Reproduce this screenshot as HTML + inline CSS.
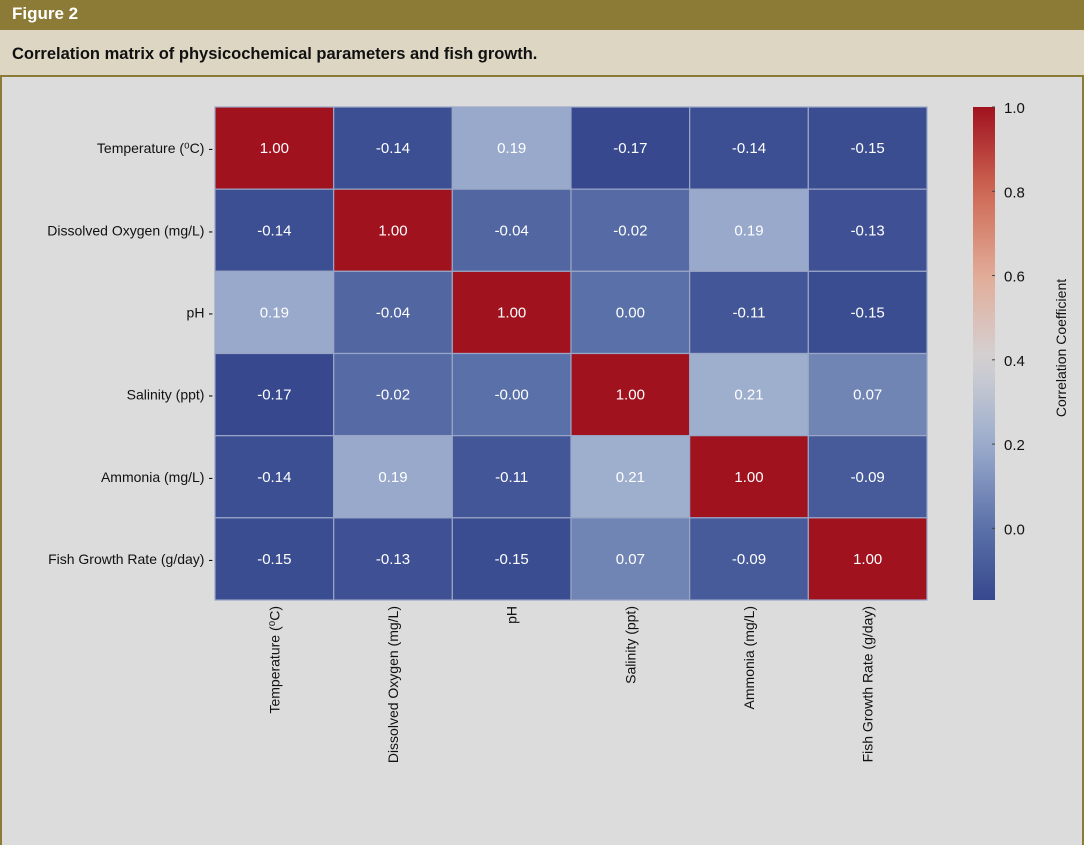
<!DOCTYPE html>
<html><head><meta charset="utf-8"><style>
body{margin:0;width:1084px;height:845px;overflow:hidden;background:#dcdcdc;font-family:"Liberation Sans",sans-serif}
#hdr{position:absolute;left:0;top:0;width:1084px;height:30px;background:#8b7b36;color:#fff;font-weight:bold;font-size:17px;line-height:28px;box-sizing:border-box;padding-left:12px}
#ttl{position:absolute;left:0;top:30px;width:1084px;height:45px;background:#dcd6c3;font-weight:bold;font-size:16.5px;line-height:48px;box-sizing:border-box;padding-left:12px;color:#111}
#panel{position:absolute;left:0;top:75px;width:1084px;height:770px;box-sizing:border-box;border:2px solid #8b7b36;border-bottom:none;background:#dcdcdc}
svg{position:absolute;left:0;top:0}
</style></head><body>
<div id="hdr">Figure 2</div>
<div id="ttl">Correlation matrix of physicochemical parameters and fish growth.</div>
<div id="panel"></div>
<svg id="chart" width="1084" height="845"></svg>
<script>
const labels=["Temperature (\u2070C)","Dissolved Oxygen (mg/L)","pH","Salinity (ppt)","Ammonia (mg/L)","Fish Growth Rate (g/day)"];
const values=[
[1.00,-0.14,0.19,-0.17,-0.14,-0.15],
[-0.14,1.00,-0.04,-0.02,0.19,-0.13],
[0.19,-0.04,1.00,0.00,-0.11,-0.15],
[-0.17,-0.02,-0.00,1.00,0.21,0.07],
[-0.14,0.19,-0.11,0.21,1.00,-0.09],
[-0.15,-0.13,-0.15,0.07,-0.09,1.00]];
const printed=[
["1.00","-0.14","0.19","-0.17","-0.14","-0.15"],
["-0.14","1.00","-0.04","-0.02","0.19","-0.13"],
["0.19","-0.04","1.00","0.00","-0.11","-0.15"],
["-0.17","-0.02","-0.00","1.00","0.21","0.07"],
["-0.14","0.19","-0.11","0.21","1.00","-0.09"],
["-0.15","-0.13","-0.15","0.07","-0.09","1.00"]];
const cbTicks=[0.0,0.2,0.4,0.6,0.8,1.0];
const vmin=-0.17,vmax=1.0;
const stops=[[-0.17,[55,72,142]],[0,[90,112,168]],[0.2,[155,172,205]],[0.4,[212,210,212]],[0.6,[226,172,152]],[0.8,[206,104,84]],[1.0,[160,18,30]]];
function color(v){
 for(let i=0;i<stops.length-1;i++){const a=stops[i],b=stops[i+1];
  if(v<=b[0]||i==stops.length-2){let t=Math.max(0,Math.min(1,(v-a[0])/(b[0]-a[0])));
   const c=a[1].map((x,k)=>Math.round(x+(b[1][k]-x)*t));return `rgb(${c})`;}}
}
const X0=215,X1=927,Y0=107,Y1=600,n=labels.length,cw=(X1-X0)/n,ch=(Y1-Y0)/n;
const xs=i=>X0+i*cw, ys=j=>Y0+j*ch;
const CBX=973,CBW=22;
const cy=v=>Y1-(v-vmin)/(vmax-vmin)*(Y1-Y0);
const svg=document.getElementById('chart');const NS="http://www.w3.org/2000/svg";
function mk(tag,attrs,txt){const e=document.createElementNS(NS,tag);for(const k in attrs)e.setAttribute(k,attrs[k]);if(txt!==undefined)e.textContent=txt;svg.appendChild(e);return e;}
const font='"Liberation Sans",sans-serif';
for(let r=0;r<n;r++)for(let c=0;c<n;c++){
 const rect=mk('rect',{x:xs(c),y:ys(r),width:cw,height:ch,fill:color(values[r][c]),stroke:'#9aa6c6','stroke-width':1.2});
 
 
 const t=mk('text',{x:xs(c)+cw/2,y:ys(r)+ch/2+5,'text-anchor':'middle','font-size':15,fill:'#fff','font-family':font},printed[r][c]);
 
 
}
labels.forEach((l,i)=>{
 const t=mk('text',{x:X0-2,y:ys(i)+ch/2+5,'text-anchor':'end','font-size':14,fill:'#111','font-family':font},l+' -');
 
 
 const xx=xs(i)+cw/2+5;
 const u=mk('text',{x:xx,y:Y1+6,'text-anchor':'end','font-size':14,fill:'#111','font-family':font,transform:`rotate(-90 ${xx} ${Y1+6})`},l);
 
 
});
const defs=mk('defs',{});
const g=document.createElementNS(NS,'linearGradient');g.setAttribute('id','cbg');g.setAttribute('x1',0);g.setAttribute('y1',1);g.setAttribute('x2',0);g.setAttribute('y2',0);defs.appendChild(g);
for(let k=0;k<=20;k++){const v=vmin+(vmax-vmin)*k/20;const s=document.createElementNS(NS,'stop');s.setAttribute('offset',k/20);s.setAttribute('stop-color',color(v));g.appendChild(s);}
const cb=mk('rect',{x:CBX,y:Y0,width:CBW,height:Y1-Y0,fill:'url(#cbg)'});


cbTicks.forEach(v=>{
 mk('line',{x1:CBX+CBW-3,x2:CBX+CBW,y1:cy(v),y2:cy(v),stroke:'#444'});
 const t=mk('text',{x:CBX+CBW+9,y:cy(v)+6,'font-size':15,fill:'#111','font-family':font},v.toFixed(1));
 
 
});
const ct=mk('text',{x:1066,y:348,'text-anchor':'middle','font-size':14,fill:'#111','font-family':font,transform:'rotate(-90 1066 348)'},'Correlation Coefficient');


</script>
</body></html>
